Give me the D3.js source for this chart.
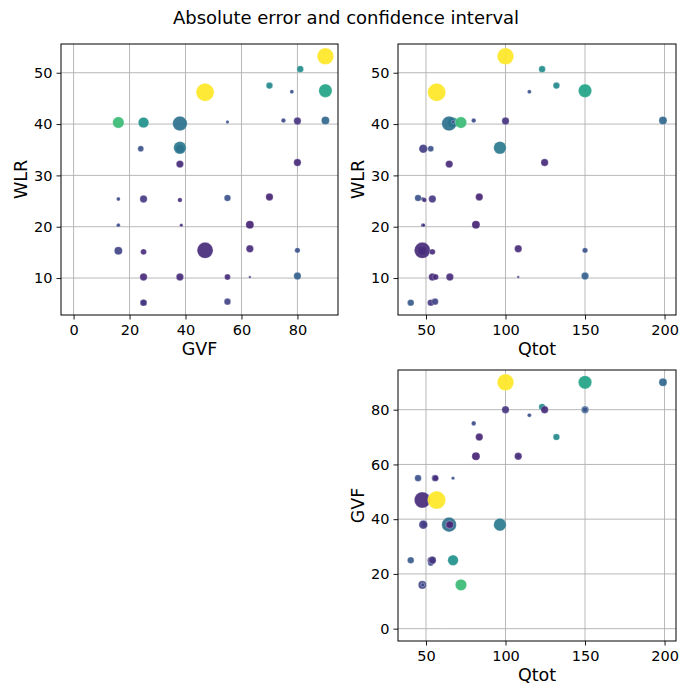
<!DOCTYPE html>
<html>
<head>
<meta charset="utf-8">
<script src="https://cdn.jsdelivr.net/npm/d3@7"></script>
<style>
  html, body { margin: 0; padding: 0; background: #fff; }
  svg { display: block; font-family: "DejaVu Sans", sans-serif; }
</style>
</head>
<body>
<svg id="chart" width="680" height="688"></svg>
<script>
// Operating points: gas volume fraction, water-liquid ratio, total flow
const gvf    = [0, 24, 25, 25, 55, 25, 55, 63, 80, 16, 47, 47, 25, 63, 80, 16, 38.5, 63, 16, 38, 25, 55, 70, 38, 38, 25, 38, 16, 55, 75, 80, 90, 38, 38, 81, 80, 70, 78, 90, 90];
const wlr    = [10.5, 35.2, 5.2, 5.2, 5.4, 10.2, 10.2, 10.2, 10.4, 15.3, 15.4, 46.2, 15.1, 15.7, 15.4, 20.3, 20.3, 20.4, 25.4, 25.2, 25.4, 25.6, 25.8, 35.2, 35.4, 40.3, 40.1, 40.3, 40.4, 40.7, 40.6, 40.7, 32.2, 10.2, 50.7, 32.5, 47.5, 46.3, 46.5, 53.2];
const qtot   = [60, 53, 40.4, 53, 55.7, 54, 56, 108, 150, 47.7, 47.7, 56.7, 54, 108, 150, 48, 48.5, 81.4, 48, 49, 54, 45, 83.5, 48.3, 96.5, 67, 64.5, 72, 67, 80, 100, 199, 64.6, 65, 123, 124.6, 132, 115, 150, 100];
// Absolute error (colour) and confidence interval width (marker area)
const absErr = [0, 2.5, 2.8, 1.6, 2.0, 1.2, 1.2, 2.0, 3.0, 2.0, 1.2, 10, 1.3, 1.2, 2.5, 2.2, 1.4, 1.0, 2.2, 1.4, 1.6, 2.5, 1.0, 1.8, 4.0, 5.0, 3.7, 6.8, 2.5, 2.2, 1.5, 3.3, 1.2, 1.2, 4.8, 1.2, 4.7, 2.5, 5.8, 10];
const ciWidth = [0.05, 2.2, 2.7, 2.7, 2.7, 3.4, 2.2, 0.4, 3.4, 4.0, 15.8, 20, 2.2, 3.4, 1.8, 0.9, 0.7, 4.0, 0.9, 1.3, 3.4, 2.7, 3.4, 4.6, 9.8, 6.9, 13.2, 8.0, 0.7, 1.3, 3.4, 4.0, 3.4, 3.4, 2.7, 3.4, 2.7, 1.0, 11, 17];

const gvfTicks  = [0, 20, 40, 60, 80];
const wlrTicks  = [10, 20, 30, 40, 50];
const qtotTicks = [50, 100, 150, 200];

const points = gvf.map((g, i) => ({ GVF: g, WLR: wlr[i], Qtot: qtot[i], err: absErr[i], ci: ciWidth[i] }));

const svg = d3.select("#chart");

const color = d3.scaleSequential(d3.interpolateViridis).domain([d3.min(absErr), d3.max(absErr)]);
const radius = d3.scaleSqrt().domain([0, d3.max(ciWidth)]).range([0, 9]);

const domains = {
  GVF: [-4.5, 94.5],
  WLR: [2.8, 55.6],
  Qtot: [32.4, 207.2]
};
const ticks = { GVF: gvfTicks, WLR: wlrTicks, Qtot: qtotTicks };

function panel(xKey, yKey, box) {
  const x = d3.scaleLinear().domain(domains[xKey]).range([box.x0, box.x1]);
  const y = d3.scaleLinear().domain(domains[yKey]).range([box.y1, box.y0]);
  const g = svg.append("g");

  // grid
  g.append("g").selectAll("line").data(ticks[xKey]).join("line")
    .attr("x1", d => x(d)).attr("x2", d => x(d))
    .attr("y1", box.y0).attr("y2", box.y1)
    .attr("stroke", "#b0b0b0").attr("stroke-width", 0.9);
  g.append("g").selectAll("line").data(ticks[yKey]).join("line")
    .attr("x1", box.x0).attr("x2", box.x1)
    .attr("y1", d => y(d)).attr("y2", d => y(d))
    .attr("stroke", "#b0b0b0").attr("stroke-width", 0.9);

  // markers
  g.append("g").selectAll("circle").data(points).join("circle")
    .attr("cx", d => x(d[xKey]))
    .attr("cy", d => y(d[yKey]))
    .attr("r", d => radius(d.ci))
    .attr("fill", d => color(d.err))
    .attr("fill-opacity", d => d.ci < 0.1 ? 0.25 : 0.92)
    .attr("stroke", "#fff")
    .attr("stroke-opacity", 0.5)
    .attr("stroke-width", 0.5);

  // axes
  const xAxis = d3.axisBottom(x).tickValues(ticks[xKey]).tickSize(4.5).tickPadding(5).tickSizeOuter(0);
  const yAxis = d3.axisLeft(y).tickValues(ticks[yKey]).tickSize(4.5).tickPadding(4).tickSizeOuter(0);
  const xa = g.append("g").attr("transform", `translate(0,${box.y1})`).call(xAxis);
  const ya = g.append("g").attr("transform", `translate(${box.x0},0)`).call(yAxis);
  [xa, ya].forEach(a => {
    a.select(".domain").remove();
    a.selectAll("line").attr("stroke", "#000").attr("stroke-width", 0.9);
    a.selectAll("text").attr("fill", "#000").style("font-size", "14.5px").style("font-family", "'DejaVu Sans', sans-serif");
  });
  xa.selectAll("text").attr("dy", "0.75em");

  // frame
  g.append("rect")
    .attr("x", box.x0).attr("y", box.y0)
    .attr("width", box.x1 - box.x0).attr("height", box.y1 - box.y0)
    .attr("fill", "none").attr("stroke", "#000").attr("stroke-width", 1);

  // axis titles
  g.append("text")
    .attr("x", (box.x0 + box.x1) / 2).attr("y", box.y1 + 40)
    .attr("text-anchor", "middle").style("font-size", "17.5px")
    .text(xKey);
  g.append("text")
    .attr("transform", `translate(${box.x0 - 34},${(box.y0 + box.y1) / 2}) rotate(-90)`)
    .attr("text-anchor", "middle").style("font-size", "17.5px")
    .text(yKey);
}

panel("GVF", "WLR", { x0: 61, x1: 338, y0: 44, y1: 315 });
panel("Qtot", "WLR", { x0: 398, x1: 676, y0: 44, y1: 315 });
panel("Qtot", "GVF", { x0: 398, x1: 676, y0: 370, y1: 641 });

svg.append("text")
  .attr("x", 346).attr("y", 24)
  .attr("text-anchor", "middle").style("font-size", "18px")
  .text("Absolute error and confidence interval");
</script>
</body>
</html>
